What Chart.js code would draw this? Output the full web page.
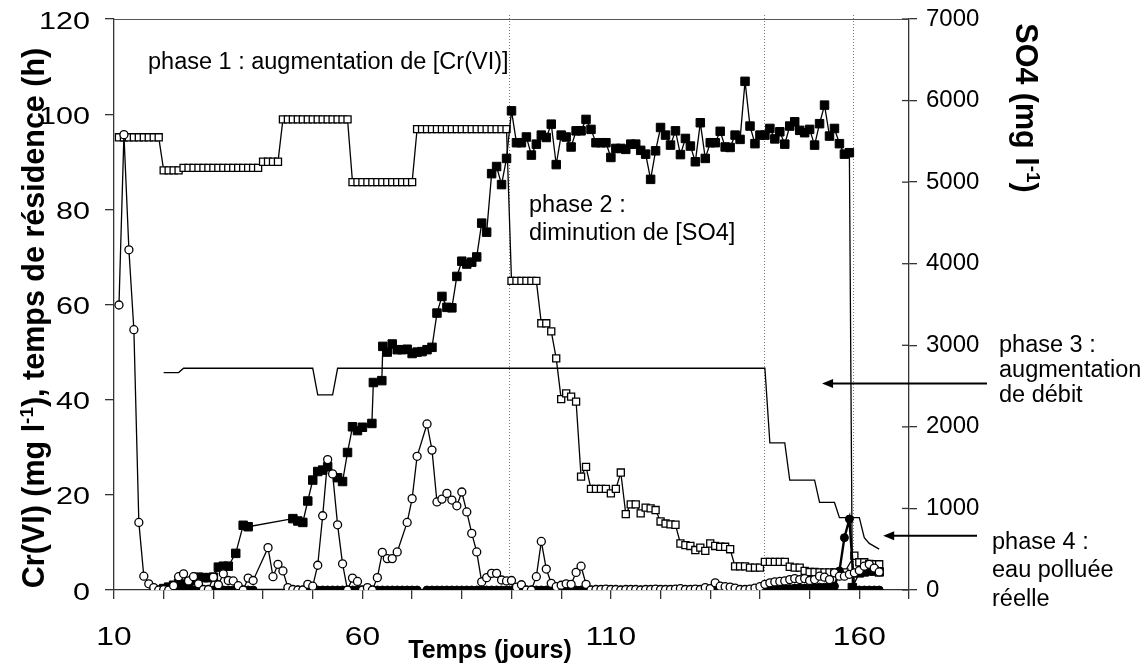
<!DOCTYPE html>
<html>
<head>
<meta charset="utf-8">
<script src="https://cdn.jsdelivr.net/npm/chart.js@4.4.1/dist/chart.umd.min.js"></script>
<style>
  html, body { margin: 0; padding: 0; background: #fff; }
</style>
</head>
<body>
<canvas id="myChart" width="1147" height="668"></canvas>
<script>
const FONT = 'Arial, "Liberation Sans", sans-serif';

// Cr(VI) - open circles (left axis)
const ocDays = [11, 12, 13, 14, 15, 16, 17, 18, 19, 20,
    21, 22, 23, 24, 25, 26, 27, 28, 29, 30,
    31, 32, 33, 34, 35, 36, 37, 38, 41, 42,
    43, 44, 45, 46, 47, 48, 49, 50, 51, 52,
    53, 54, 55, 56, 57, 58, 59, 60, 61, 62,
    63, 64, 65, 66, 67, 69, 70, 71, 73, 74,
    75, 76, 77, 78, 79, 80, 81, 82, 83, 84,
    85, 86, 87, 88, 89, 90, 91, 92, 93, 94,
    95, 96, 97, 98, 99, 100, 101, 102, 103, 104,
    105, 106, 107, 108, 109, 110, 111, 112, 113, 114,
    115, 116, 117, 118, 119, 120, 121, 122, 123, 124,
    125, 126, 127, 128, 129, 130, 131, 132, 133, 134,
    135, 136, 137, 138, 139, 140, 141, 142, 143, 144,
    145, 146, 147, 148, 149, 150, 151, 152, 153, 154,
    155, 156, 157, 158, 159, 160, 161, 162, 163, 164];
const ocVals = [59.9, 95.7, 71.5, 54.7, 14.2, 2.9, 1.3, 0.5, 0, 0.1,
    0, 0.9, 2.8, 3.4, 1.9, 2.8, 1.3, 0.1, 0.1, 2.7,
    1.1, 3.4, 2.0, 1.9, 0.9, 0, 2.5, 2.0, 8.9, 2.8,
    5.4, 4.0, 0.5, 0.1, 0, 0, 1.2, 0.8, 5.2, 15.6,
    27.4, 24.4, 13.7, 5.5, 0, 2.5, 1.8, 0, 0.5, 0,
    2.6, 7.9, 6.6, 6.6, 8.0, 14.2, 19.2, 28.1, 34.9, 29.4,
    18.5, 19.1, 20.3, 18.9, 17.7, 20.6, 16.4, 11.9, 8.0, 1.7,
    2.6, 3.5, 3.5, 2.1, 1.9, 2.0, 0.6, 1.1, 0, 0,
    2.8, 10.2, 4.4, 1.4, 0.7, 1.0, 1.3, 1.2, 3.7, 5.0,
    1.2, 0, 0.1, 0.1, 0.2, 0.1, 0.1, 0, 0.1, 0.1,
    0.1, 0, 0.1, 0.1, 0.2, 0.1, 0.1, 0.1, 0.2, 0.3,
    0.1, 0.1, 0.2, 0.1, 0.5, 0.3, 1.5, 0.8, 0.7, 0.6,
    0.4, 0.1, 0.1, 0.2, 0.4, 0.7, 1.2, 1.5, 1.7, 1.8,
    1.9, 2.2, 2.4, 2.2, 2.4, 2.0, 2.2, 2.9, 2.7, 2.2,
    3.6, 2.9, 2.9, 3.3, 3.6, 4.1, 5.0, 5.4, 4.6, 3.8];

// filled circles (left axis)
const fcDays = [19, 20, 21, 22, 23, 24, 25, 26, 27, 28,
    29, 30, 31, 32, 33, 34, 35, 36, 37, 38,
    47, 48, 49, 50, 51, 52, 53, 54, 55, 56,
    57, 58, 59, 60, 61, 62, 63, 64, 65, 66,
    67, 68, 69, 70, 71, 73, 74, 75, 76, 77,
    78, 79, 80, 81, 82, 83, 84, 85, 86, 87,
    88, 89, 90, 91, 92, 93, 94, 95, 96, 97,
    98, 99, 100, 101, 102, 103, 104, 105, 106, 107,
    108, 109, 110, 111, 112, 113, 114, 115, 116, 117,
    118, 119, 120, 121, 122, 123, 124, 125, 126, 127,
    128, 129, 130, 131, 132, 133, 134, 135, 136, 137,
    138, 139, 140, 141, 142, 143, 144, 145, 146, 147,
    148, 149, 150, 151, 152, 153, 154, 155, 156, 157,
    158, 159, 160, 161, 162, 163, 164];
const fcVals = [0, 0, 0, 0, 0, 0, 0, 0, 0, 0,
    0, 0, 0, 0, 0, 0, 0, 0, 0, 0,
    0, 0, 0, 0, 0, 0, 0, 0, 0, 0,
    0, 0, 0, 0, 0, 0, 0, 0, 0, 0,
    0, 0, 0, 0, 0, 0, 0, 0, 0, 0,
    0, 0, 0, 0, 0, 0, 0, 0, 0, 0,
    0, 0, 0, 0, 0, 0, 0, 0, 0, 0,
    0, 0, 0, 0, 0, 0, 0, 0, 0, 0,
    0, 0, 0, 0, 0, 0, 0, 0, 0, 0,
    0, 0, 0, 0, 0, 0, 0, 0, 0, 0,
    0, 0, 0, 0, 0, 0, 0, 0, 0, 0,
    0, 0, 0.1, 0.2, 0.2, 0.2, 0.2, 0.3, 0.3, 0.4,
    0.4, 0.4, 0.4, 0.5, 0.6, 0.6, 0.7, 0.8, 4.0, 11.0,
    14.9, 0, 0, 0, 0, 0, 0];

// Cr(VI) influent - filled squares (left axis)
const fsDays = [20, 21, 22, 23, 24, 25, 26, 27, 28, 29,
    30, 31, 32, 33, 34.5, 36, 37, 46, 47, 48,
    49, 50, 51, 52, 53, 55, 56, 57, 58, 59,
    60, 61.9, 62.2, 63.9, 64.1, 65, 66, 67, 68, 69,
    70, 71, 72, 73, 74, 75, 76, 77, 78, 79,
    80, 81, 82, 83, 84, 85, 86, 87, 88, 89,
    90, 91, 92, 93, 94, 95, 96, 97, 98, 99,
    100, 101, 102, 103, 104, 105, 106, 107, 108, 109,
    110, 111, 112, 113, 114, 115, 116, 117, 118, 119,
    120, 121, 122, 123, 124, 125, 126, 127, 128, 129,
    130, 131, 132, 133, 134, 135, 136, 137, 138, 139,
    140, 141, 142, 143, 144, 145, 146, 147, 148, 149,
    150, 151, 152, 153, 154, 155, 156, 157, 158,
    158.6, 160, 161, 162, 163, 164];
const fsVals = [0.3, 0.6, 1.0, 1.4, 1.2, 1.5, 2.0, 2.7, 2.6, 2.6,
    2.7, 4.8, 5.0, 5.0, 7.7, 13.6, 13.3, 15.0, 14.5, 14.2,
    18.7, 23.1, 24.9, 25.2, 25.9, 23.6, 22.8, 28.9, 34.3, 33.5,
    34.2, 35.0, 43.6, 44.0, 51.2, 50.0, 51.7, 50.5, 50.5, 50.6,
    49.7, 50.0, 50.1, 50.5, 51.0, 58.2, 61.7, 59.4, 59.3, 65.9,
    69.1, 68.5, 68.9, 70.0, 77.1, 75.2, 87.5, 89.0, 85.2, 90.7,
    100.7, 94.0, 94.0, 95.2, 91.4, 93.7, 95.6, 95.1, 97.9, 89.4,
    95.6, 95.2, 93.1, 96.5, 96.5, 98.9, 96.8, 94.0, 94.0, 94.0,
    90.9, 92.8, 92.8, 92.6, 93.7, 93.7, 92.4, 91.6, 86.3, 92.3,
    97.2, 95.6, 93.5, 96.5, 91.5, 94.9, 93.3, 90.0, 98.2, 90.7,
    94.0, 94.0, 96.4, 93.1, 93.0, 95.6, 94.7, 106.9, 97.5, 93.8,
    95.6, 95.6, 97.0, 94.8, 96.3, 93.7, 97.5, 98.4, 96.6, 96.1,
    96.8, 93.5, 98.0, 101.9, 95.4, 97.0, 93.8, 91.6, 91.9,
    0.5, 3.6, 3.8, 4.0, 4.0, 3.8];

// SO4 influent - open squares (right axis, mg/l)
const osDays = [11, 12, 13, 14, 15, 16, 17, 18, 19, 20,
    21, 22, 23, 24, 25, 26, 27, 28, 29, 30,
    31, 32, 33, 34, 35, 36, 37, 38, 39, 40,
    41, 42, 43, 44, 45, 46, 47, 48, 49, 50,
    51, 52, 53, 54, 55, 56, 57, 58, 59, 60,
    61, 62, 63, 64, 65, 66, 67, 68, 69, 70,
    71, 72, 73, 74, 75, 76, 77, 78, 79, 80,
    81, 82, 83, 84, 85, 86, 87, 88, 89, 90,
    91, 92, 93, 94, 95, 96, 97, 98, 99, 100,
    101, 102, 103, 104, 105, 106, 107, 108, 109, 110,
    111, 112, 113, 114, 115, 116, 117, 118, 119, 120,
    121, 122, 123, 124, 125, 126, 127, 128, 129, 130,
    131, 132, 133, 134, 135, 136, 137, 138, 139, 140,
    141, 142, 143, 144, 145, 146, 147, 148, 149, 150,
    151, 152, 153, 154, 155, 156, 157,
    159, 160, 161, 162, 163, 164];
const osVals = [5550, 5550, 5550, 5550, 5550, 5550, 5550, 5550, 5550, 5145,
    5145, 5145, 5145, 5175, 5175, 5175, 5175, 5175, 5175, 5175,
    5175, 5175, 5175, 5175, 5175, 5175, 5175, 5175, 5175, 5250,
    5250, 5250, 5250, 5770, 5770, 5770, 5770, 5770, 5770, 5770,
    5770, 5770, 5770, 5770, 5770, 5770, 5770, 5000, 5000, 5000,
    5000, 5000, 5000, 5000, 5000, 5000, 5000, 5000, 5000, 5000,
    5650, 5650, 5650, 5650, 5650, 5650, 5650, 5650, 5650, 5650,
    5650, 5650, 5650, 5650, 5650, 5650, 5650, 5650, 5650, 3790,
    3790, 3790, 3790, 3790, 3790, 3270, 3270, 3170, 2840, 2340,
    2410, 2370, 2310, 1390, 1510, 1240, 1240, 1240, 1240, 1185,
    1240, 1440, 930, 1050, 1050, 940, 1010, 1000, 980, 840,
    815, 805, 800, 570, 550, 540, 490, 520, 480, 570,
    540, 530, 530, 500, 290, 290, 290, 275, 275, 275,
    345, 345, 345, 345, 345, 285, 275, 275, 235, 220,
    220, 215, 215, 215, 215, 205, 215,
    420, 340, 340, 320, 315, 315];

// temps de residence (h) - plain line (left axis)
const resDays = [20, 23, 24, 50, 51, 54, 55, 141, 142, 145, 146, 151, 152, 155, 156, 160, 161, 162, 164];
const resVals = [45.7, 45.7, 46.6, 46.6, 41.0, 41.0, 46.6, 46.6, 30.9, 30.9, 23.1, 23.1, 18.4, 18.4, 15.2, 15.2, 11.0, 9.8, 8.6];

const phaseDays = [89.5, 140.8, 158.7];
const xTicksShown = [10, 60, 110, 160];

function pts(days, vals) {
    return days.map(function (d, i) { return {x: d, y: vals[i]}; });
}

function drawTitle(ctx, parts, cx, cy, angle, size) {
    ctx.save();
    ctx.translate(cx, cy);
    ctx.rotate(angle);
    ctx.textAlign = 'left';
    ctx.textBaseline = 'alphabetic';
    ctx.fillStyle = '#000';
    let total = 0;
    parts.forEach(function (p) {
        ctx.font = 'bold ' + (p.sup ? size * 0.62 : size) + 'px ' + FONT;
        total += ctx.measureText(p.text).width;
    });
    let px = -total / 2;
    parts.forEach(function (p) {
        ctx.font = 'bold ' + (p.sup ? size * 0.62 : size) + 'px ' + FONT;
        ctx.fillText(p.text, px, p.sup ? -size * 0.36 : 0);
        px += ctx.measureText(p.text).width;
    });
    ctx.restore();
}

// the left and bottom tick labels of the original are drawn a bit wide
function wideText(ctx, text, x, y, align, sx) {
    ctx.save();
    ctx.translate(x, y);
    ctx.scale(sx, 1);
    ctx.textAlign = align;
    ctx.textBaseline = 'alphabetic';
    ctx.fillText(text, 0, 0);
    ctx.restore();
}

function arrow(ctx, x1, y, x2) {
    ctx.beginPath();
    ctx.moveTo(x1, y);
    ctx.lineTo(x2 + 8, y);
    ctx.stroke();
    ctx.beginPath();
    ctx.moveTo(x2, y);
    ctx.lineTo(x2 + 11, y - 4.5);
    ctx.lineTo(x2 + 11, y + 4.5);
    ctx.closePath();
    ctx.fill();
}

const decor = {
    id: 'decor',
    beforeDatasetsDraw(chart) {
        const {ctx, chartArea: {top, bottom}, scales: {x}} = chart;
        ctx.save();
        ctx.strokeStyle = '#777';
        ctx.lineWidth = 1;
        ctx.setLineDash([1, 2]);
        phaseDays.forEach(function (d) {
            const px = Math.round(x.getPixelForValue(d)) + 0.5;
            ctx.beginPath();
            ctx.moveTo(px, top - 4);
            ctx.lineTo(px, bottom);
            ctx.stroke();
        });
        ctx.restore();
    },
    afterDraw(chart) {
        const {ctx, chartArea: {left, right, top, bottom}, scales: {x, y, y2}} = chart;
        ctx.save();
        // top frame line
        ctx.strokeStyle = '#555';
        ctx.lineWidth = 1;
        ctx.beginPath();
        ctx.moveTo(left, top + 0.5);
        ctx.lineTo(right, top + 0.5);
        ctx.stroke();
        // right axis ticks also cross inside
        ctx.strokeStyle = '#333';
        ctx.lineWidth = 1.3;
        y2.ticks.forEach(function (t) {
            const py = y2.getPixelForValue(t.value);
            ctx.beginPath();
            ctx.moveTo(right - 7, py);
            ctx.lineTo(right, py);
            ctx.stroke();
        });

        // tick labels, left and bottom
        ctx.fillStyle = '#000';
        ctx.font = '23.5px ' + FONT;
        y.ticks.forEach(function (t) {
            wideText(ctx, String(t.value), left - 24, y.getPixelForValue(t.value) + 9.5, 'right', 1.3);
        });
        ctx.font = '25px ' + FONT;
        x.ticks.forEach(function (t) {
            if (xTicksShown.includes(t.value)) {
                wideText(ctx, String(t.value), x.getPixelForValue(t.value), bottom + 55, 'center', 1.27);
            }
        });

        // axis titles
        drawTitle(ctx, [{text: 'Cr(VI) (mg l'}, {text: '-1', sup: true}, {text: '), temps de résidence (h)'}], 44, 318, -Math.PI / 2, 30.5);
        drawTitle(ctx, [{text: 'SO4 (mg l'}, {text: '-1', sup: true}, {text: ')'}], 1016, 108, Math.PI / 2, 30.5);
        ctx.font = 'bold 25px ' + FONT;
        ctx.textAlign = 'center';
        ctx.textBaseline = 'alphabetic';
        ctx.fillText('Temps (jours)', 490, 658);

        // phase notes
        ctx.font = '23.5px ' + FONT;
        ctx.textAlign = 'left';
        ctx.fillText('phase 1 : augmentation de [Cr(VI)]', 148, 69);
        ctx.fillText('phase 2 :', 529, 212);
        ctx.fillText('diminution de [SO4]', 529, 240);
        ctx.fillText('phase 3 :', 999, 352);
        ctx.fillText('augmentation', 999, 377);
        ctx.fillText('de débit', 999, 402);
        ctx.fillText('phase 4 :', 992, 549);
        ctx.fillText('eau polluée', 992, 577);
        ctx.fillText('réelle', 992, 606);

        // arrows
        ctx.strokeStyle = '#000';
        ctx.fillStyle = '#000';
        ctx.lineWidth = 1.8;
        arrow(ctx, right + 78, y.getPixelForValue(43.4), x.getPixelForValue(152.5));
        arrow(ctx, right + 68, y.getPixelForValue(11.4), x.getPixelForValue(164.8));
        ctx.restore();
    }
};

function noPad(scale) {
    scale.paddingTop = 0;
    scale.paddingBottom = 0;
    scale.paddingLeft = 0;
    scale.paddingRight = 0;
}

const ctx = document.getElementById('myChart');
new Chart(ctx, {
    type: 'line',
    data: {
        datasets: [
            {
                label: 'Cr(VI)',
                data: pts(ocDays, ocVals),
                yAxisID: 'y',
                borderColor: '#000',
                borderWidth: 1.3,
                pointStyle: 'circle',
                pointRadius: 4,
                pointBackgroundColor: '#fff',
                pointBorderColor: '#000',
                pointBorderWidth: 1.3
            },
            {
                label: 'filled circles',
                data: pts(fcDays, fcVals),
                yAxisID: 'y',
                borderColor: '#000',
                borderWidth: 2.4,
                pointStyle: 'circle',
                pointRadius: 4,
                pointBackgroundColor: '#000',
                pointBorderColor: '#000',
                pointBorderWidth: 1
            },
            {
                label: 'Cr(VI) entree',
                data: pts(fsDays, fsVals),
                yAxisID: 'y',
                borderColor: '#000',
                borderWidth: 1.3,
                pointStyle: 'rect',
                pointRadius: 6,
                pointBackgroundColor: '#000',
                pointBorderColor: '#000',
                pointBorderWidth: 1
            },
            {
                label: 'SO4',
                data: pts(osDays, osVals),
                yAxisID: 'y2',
                borderColor: '#000',
                borderWidth: 1.3,
                pointStyle: 'rect',
                pointRadius: 5,
                pointBackgroundColor: '#fff',
                pointBorderColor: '#000',
                pointBorderWidth: 1.3
            },
            {
                label: 'temps de residence',
                data: pts(resDays, resVals),
                yAxisID: 'y',
                borderColor: '#000',
                borderWidth: 1.3,
                pointRadius: 0
            }
        ]
    },
    options: {
        responsive: false,
        animation: false,
        devicePixelRatio: 1,
        layout: {padding: {top: 19, left: 0, right: 0, bottom: 0}},
        plugins: {
            legend: {display: false},
            tooltip: {enabled: false}
        },
        scales: {
            x: {
                type: 'linear',
                min: 10,
                max: 170,
                afterFit: (scale) => { scale.height = 78; noPad(scale); },
                ticks: {stepSize: 10, autoSkip: false, display: false},
                grid: {drawOnChartArea: false, drawTicks: true, tickLength: 9, color: '#333', lineWidth: 1.3},
                border: {display: true, color: '#333', width: 1.3}
            },
            y: {
                position: 'left',
                min: 0,
                max: 120,
                afterFit: (scale) => { scale.width = 114; noPad(scale); },
                ticks: {stepSize: 20, display: false},
                grid: {drawOnChartArea: false, drawTicks: true, tickLength: 9, color: '#333', lineWidth: 1.3},
                border: {display: true, color: '#333', width: 1.3}
            },
            y2: {
                position: 'right',
                min: 0,
                max: 7000,
                afterFit: (scale) => { scale.width = 238; noPad(scale); },
                ticks: {
                    stepSize: 1000,
                    padding: 9,
                    color: '#000',
                    font: {family: FONT, size: 24},
                    callback: (v) => String(v)
                },
                grid: {drawOnChartArea: false, drawTicks: true, tickLength: 8, color: '#333', lineWidth: 1.3},
                border: {display: true, color: '#333', width: 1.3}
            }
        }
    },
    plugins: [decor]
});
</script>
</body>
</html>
